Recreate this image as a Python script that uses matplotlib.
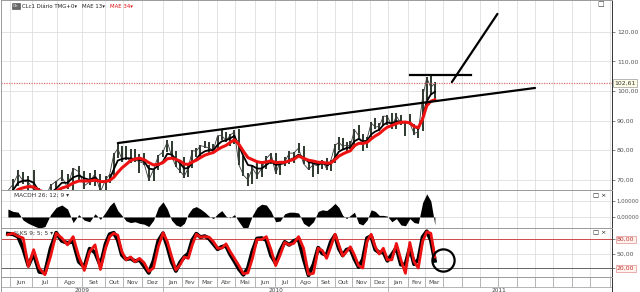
import numpy as np
import pandas as pd
import matplotlib
matplotlib.use('Agg')
import matplotlib.pyplot as plt
import matplotlib.transforms as mtransforms

# CLc1 weekly values (Friday of each week)
weeks = pd.date_range('2009-05-29', periods=95, freq='W-FRI')

close = [66.3, 68.4, 72.0, 69.6, 69.2, 66.7, 59.9, 63.6, 68.1, 69.5,
         70.9, 67.5, 73.9, 72.7, 68.0, 69.3, 72.0, 66.0, 70.0, 71.8,
         78.5, 80.5, 77.0, 77.4, 76.4, 76.7, 76.1, 75.5, 69.9, 73.4,
         78.1, 79.4, 82.8, 78.0, 74.5, 72.9, 71.2, 74.1, 79.8, 79.7,
         81.5, 81.2, 80.7, 80.0, 84.9, 84.9, 83.2, 85.1, 86.2, 75.1,
         71.6, 70.0, 74.0, 71.5, 73.8, 77.2, 78.9, 72.1, 76.1, 76.0,
         79.0, 79.0, 80.7, 75.4, 73.5, 75.2, 74.6, 76.5, 73.7, 76.5,
         81.6, 82.7, 81.3, 81.7, 81.4, 86.9, 84.9, 81.5, 83.8, 89.2,
         87.8, 88.0, 91.5, 91.4, 88.0, 91.5, 89.1, 89.3, 89.0, 85.6,
         86.2, 97.9, 104.4, 101.2, 102.61]
high = [66.5, 70.3, 73.2, 72.7, 71.3, 73.4, 67.2, 64.0, 68.5, 69.6,
        73.4, 72.0, 74.0, 74.7, 72.8, 72.3, 73.3, 72.1, 71.4, 72.0,
        78.9, 82.0, 81.5, 81.3, 80.5, 80.5, 78.6, 79.0, 75.0, 73.8,
        78.3, 80.0, 83.4, 83.0, 79.6, 75.3, 77.7, 75.5, 80.0, 80.7,
        81.7, 83.2, 82.6, 82.2, 84.9, 86.8, 86.3, 85.4, 86.7, 87.0,
        78.0, 72.2, 75.0, 75.7, 75.9, 78.0, 79.0, 79.0, 76.5, 77.8,
        79.7, 79.4, 82.4, 81.3, 76.5, 75.6, 76.2, 76.8, 77.5, 76.6,
        82.2, 84.4, 84.2, 82.9, 83.2, 87.1, 88.6, 85.5, 84.3, 89.5,
        90.8, 89.3, 91.6, 92.0, 92.6, 92.6, 91.9, 89.5, 92.2, 89.0,
        87.0, 100.5, 104.8, 105.4, 103.0]
low = [61.5, 65.5, 67.8, 68.5, 66.6, 66.1, 58.3, 59.0, 63.0, 63.8,
       69.5, 66.8, 66.2, 69.5, 66.9, 68.2, 68.0, 65.0, 65.7, 68.9,
       71.4, 77.5, 76.0, 76.8, 75.8, 76.0, 72.4, 75.0, 69.5, 69.5,
       73.4, 77.8, 79.5, 77.8, 74.2, 72.4, 70.6, 71.0, 73.9, 77.6,
       78.0, 80.6, 79.0, 78.9, 80.0, 83.5, 82.8, 81.3, 82.0, 75.0,
       71.2, 67.8, 68.5, 70.3, 70.8, 73.6, 75.4, 72.0, 71.6, 74.5,
       75.2, 75.6, 78.9, 75.2, 73.3, 71.0, 71.8, 73.5, 73.4, 72.8,
       75.8, 80.2, 80.4, 79.0, 80.4, 80.8, 84.0, 79.8, 80.7, 84.4,
       87.2, 86.6, 88.0, 88.5, 87.2, 87.0, 88.4, 84.9, 88.5, 85.2,
       84.1, 86.4, 97.0, 98.5, 96.5]
mae13 = [64.8, 66.5, 69.0, 69.7, 69.8, 69.0, 66.0, 64.5, 65.5, 67.0,
         69.0, 69.0, 70.8, 71.5, 70.5, 70.0, 70.8, 69.2, 69.3, 70.2,
         73.5, 76.5, 77.0, 77.3, 77.2, 77.0, 76.7, 76.3, 73.8, 73.5,
         74.8, 76.2, 78.8, 78.5, 77.0, 75.5, 73.8, 74.0, 75.8, 77.0,
         78.7, 79.6, 80.0, 80.0, 81.8, 83.0, 83.3, 84.0, 84.8, 81.5,
         78.0, 75.0, 74.7, 73.8, 73.8, 75.0, 76.2, 75.0, 75.3, 75.6,
         76.6, 77.3, 78.5, 77.5, 76.0, 75.6, 75.2, 75.6, 75.0, 75.4,
         77.5, 79.5, 80.2, 80.7, 81.0, 83.0, 83.8, 83.0, 83.2, 85.3,
         86.3, 86.9, 88.5, 89.4, 89.0, 89.8, 89.6, 89.5, 89.3, 88.0,
         87.2, 91.0, 96.5, 98.8, 99.7]
mae34 = [63.5, 65.3, 66.7, 67.3, 67.7, 67.6, 66.4, 65.8, 65.7, 66.2,
         67.2, 67.8, 68.9, 69.6, 69.6, 69.6, 69.9, 69.4, 69.4, 69.8,
         70.8, 72.5, 74.0, 75.2, 76.5, 77.0, 77.3, 76.8, 75.8, 75.0,
         75.2, 75.8, 77.1, 77.3, 76.9, 76.3, 75.3, 75.2, 76.0, 76.6,
         77.5, 78.3, 78.8, 79.2, 80.2, 81.0, 81.6, 82.6, 83.5, 82.0,
         79.6, 77.5, 76.8, 76.1, 75.8, 76.0, 76.4, 75.8, 75.9, 75.9,
         76.4, 76.9, 78.0, 77.3, 76.6, 76.3, 75.9, 75.9, 75.6, 75.7,
         76.8, 78.0, 78.7, 79.3, 79.8, 81.5, 82.3, 82.3, 82.6, 83.8,
         84.8, 85.6, 86.8, 87.8, 88.3, 89.0, 89.4, 89.5, 89.2, 88.0,
         87.6, 90.5, 95.0, 96.5, 97.0]
macdh = [0.5, 0.35, 0.3, -0.2, -0.4, -0.55, -0.7, -0.6, 0.15, 0.6,
         0.75, 0.5, -0.35, 0.15, -0.2, -0.3, 0.2, -0.15, 0.3, 0.7,
         0.95, 0.4, 0.1, -0.25, -0.35, -0.3, -0.4, -0.45, -0.6, -0.2,
         0.6, 0.95, 0.5, -0.2, -0.5, -0.6, -0.4, 0.2, 0.55, 0.65,
         0.5, 0.3, 0.05, -0.1, 0.2, 0.4, 0.05, -0.05, 0.15, -0.3,
         -0.7, -0.65, 0.1, 0.6, 0.8, 0.75, 0.35, -0.3, -0.25, 0.2,
         0.3, 0.3, 0.25, -0.4, -0.6, -0.3, 0.35, 0.45, 0.4, 0.6,
         0.85, 0.6, 0.1, -0.1, 0.1, 0.3, -0.4, -0.5, -0.2, 0.45,
         0.35, 0.1, 0.1, 0.05, -0.3, -0.1, -0.5, -0.55, -0.1, -0.35,
         -0.4, 0.9, 1.45, 1.0, -0.5]
stoch_k = [91, 90, 85, 60, 25, 50, 12, 10, 60, 93,
           76, 72, 75, 33, 22, 60, 52, 25, 70, 90,
           93, 78, 47, 38, 40, 34, 37, 24, 10, 35,
           76, 92, 65, 33, 14, 32, 43, 50, 78, 91,
           84, 86, 81, 70, 59, 64, 66, 48, 34, 18,
           6, 20, 55, 81, 82, 78, 46, 30, 56, 74,
           68, 76, 80, 40, 5, 27, 62, 50, 47, 74,
           88, 60, 46, 58, 60, 39, 22, 38, 82, 86,
           58, 52, 53, 35, 48, 62, 27, 28, 62, 28,
           38, 84, 96, 78, 35]
stoch_d = [89, 92, 86, 82, 23, 58, 20, 6, 44, 92,
           82, 68, 85, 44, 15, 54, 68, 17, 61, 85,
           92, 88, 54, 37, 43, 33, 40, 31, 13, 20,
           64, 93, 75, 44, 16, 27, 43, 40, 68, 90,
           84, 85, 84, 75, 61, 61, 70, 54, 40, 25,
           8, 10, 40, 79, 79, 85, 58, 25, 47, 73,
           68, 71, 85, 61, 7, 9, 61, 56, 40, 64,
           90, 68, 45, 54, 64, 47, 25, 20, 75, 90,
           64, 49, 61, 37, 37, 71, 37, 9, 73, 33,
           20, 75, 95, 92, 43]

last_price = 102.61
support_dates = ['2009-10-23', '2011-09-01']
support_prices = [82.4, 101.0]
resist_dates = ['2011-02-04', '2011-05-16']
resist_prices = [105.4, 105.4]
target_dates = ['2011-04-15', '2011-06-30']
target_prices = [103.0, 126.0]
circle_date = ['2011-04-01']
circle_value = [36.6]

month_names = ['Jun', 'Jul', 'Ago', 'Set', 'Out', 'Nov', 'Dez',
               'Jan', 'Fev', 'Mar', 'Abr', 'Mai', 'Jun', 'Jul', 'Ago', 'Set', 'Out', 'Nov', 'Dez',
               'Jan', 'Fev', 'Mar']
years = ['2009', '2010', '2011']
year_spans = [(-0.41, 7), (7, 19), (19, 31)]

# the time axis of the platform is not uniform: pixel edge of each month from May 2009
month_idx = np.arange(-1, 33)
month_edge = [-12, 10, 32, 57, 82, 105, 123, 142, 163, 182, 198, 217, 235, 255, 275, 295, 317,
              335, 352, 370, 388, 408, 425, 443, 462, 480, 498, 517, 535, 553, 572, 590, 610, 628]


def fwd(m):
    return np.interp(m, month_idx, month_edge)


def inv(p):
    return np.interp(p, month_edge, month_idx)


def mpos(dates):
    d = pd.DatetimeIndex(pd.to_datetime(dates))
    return np.asarray((d.year - 2009) * 12 + d.month - 6 + (d.day - 1) / d.days_in_month, dtype=float)


x = mpos(weeks)
W, H = 640, 292
fig = plt.figure(figsize=(6.4, 2.92), dpi=100)
L, WW = 1 / W, 611 / W
ax = fig.add_axes([L, (H - 190) / H, WW, 190 / H])
axm = fig.add_axes([L, (H - 228) / H, WW, 38 / H])
axs = fig.add_axes([L, (H - 277) / H, WW, 49 / H])
axd = fig.add_axes([L, 0, WW, 15 / H])

tick_col = '#555555'
for a in (ax, axm, axs, axd):
    a.set_xscale('function', functions=(fwd, inv))
    a.set_xlim(-0.41, 31.11)
    a.set_xticks(np.arange(0, 32))
    a.tick_params(axis='x', length=0, labelbottom=False)
    a.grid(True, color='#dedede', lw=0.6)
    a.set_axisbelow(True)
    for s in a.spines.values():
        s.set_color('#9a9a9a')
        s.set_linewidth(0.7)
    a.spines['right'].set_linestyle((0, (1, 1)))
    a.spines['right'].set_color('#333333')
    a.yaxis.tick_right()
    a.tick_params(axis='y', length=2, labelsize=4.4, colors=tick_col, pad=1.5, width=0.5)

# main price panel
ax.vlines(x, low, high, color='#1e2a1e', lw=1.3)
ax.plot(x, close, color='#3a3a3a', lw=0.6)
ax.plot(x, mae13, color='black', lw=1.3)
ax.plot(x, mae34, color='#ee1111', lw=2.2)
ax.axhline(last_price, color='#e07070', lw=0.9, ls=(0, (1, 1)))
ax.plot(mpos(support_dates), support_prices, color='black', lw=1.6, solid_capstyle='round')
ax.plot(mpos(resist_dates), resist_prices, color='black', lw=1.6)
ax.plot(mpos(target_dates), target_prices, color='black', lw=1.6, solid_capstyle='round')
ax.set_ylim(66.55, 130.7)
pticks = [70, 80, 90, 100, 110, 120]
ax.set_yticks(pticks)
ax.set_yticklabels([f'{v:.2f}'.replace('.', ',') for v in pticks])
blend = mtransforms.blended_transform_factory(ax.transAxes, ax.transData)
ax.text(1.004, last_price, f'{last_price:.2f}'.replace('.', ','), transform=blend, fontsize=4.4,
        va='center', ha='left', color='#333333',
        bbox=dict(boxstyle='square,pad=0.25', fc='#fffde6', ec='#999999', lw=0.5))

fig.text(13 / W, 1 - 6 / H, 'Ch', fontsize=3.0, color='white', va='center', ha='left',
         bbox=dict(boxstyle='square,pad=0.3', fc='#666666', ec='#444444', lw=0.4))
fig.text(22 / W, 1 - 6 / H, 'CLc1 Diário TMG+0\u25be', fontsize=3.9, color='#222222', va='center')
fig.text(82 / W, 1 - 6 / H, 'MAE 13\u25be', fontsize=3.9, color='#222222', va='center')
fig.text(110 / W, 1 - 6 / H, 'MAE 34\u25be', fontsize=3.9, color='#e01010', va='center')
fig.text(601 / W, 1 - 4 / H, '\u25a1', fontsize=5, color='#333333', va='center', ha='center')

# MACD histogram
axm.fill_between(x, 0, macdh, color='black', lw=0)
axm.set_ylim(-0.69, 1.69)
axm.set_yticks([0, 1])
axm.set_yticklabels(['0,00000', '1,00000'])
axm.tick_params(axis='y', labelsize=3.9)
axm.text(0.022, 0.86, 'MACDH 26; 12; 9 \u25be', transform=axm.transAxes, fontsize=4.2,
         color='#333333', va='center')
axm.text(0.99, 0.86, '\u25a1 \u00d7', transform=axm.transAxes, fontsize=4.6, color='#222222',
         va='center', ha='right')

# stochastic
axs.axhline(80, color='#d04a4a', lw=0.7)
axs.axhline(20, color='#666666', lw=0.7)
axs.plot(x, stoch_k, color='black', lw=2.8)
axs.plot(x, stoch_d, color='#ee1111', lw=2.0)
axs.plot(mpos(circle_date), circle_value, 'o', ms=16, mfc='none', mec='black', mew=1.6)
axs.set_ylim(1.4, 102.9)
axs.set_yticks([20, 50, 80])
axs.set_yticklabels(['20,00', '50,00', '80,00'])
for lab, v in zip(axs.get_yticklabels(), [20, 50, 80]):
    if v != 50:
        lab.set_color('#c03030')
        lab.set_bbox(dict(boxstyle='square,pad=0.2', fc='#fff3ee', ec='#e09090', lw=0.5))
axs.text(0.022, 0.9, '%KS 9; 5; 5 \u25be', transform=axs.transAxes, fontsize=4.2,
         color='#333333', va='center')
axs.text(0.99, 0.9, '\u25a1 \u00d7', transform=axs.transAxes, fontsize=4.6, color='#222222',
         va='center', ha='right')

# month and year rows
axd.grid(False)
axd.set_ylim(0, 1)
axd.set_yticks([])
axd.vlines(np.arange(0, 32), 1 / 3, 1, color='#a8a8a8', lw=0.6)
axd.vlines([7, 19], 0, 1 / 3, color='#a8a8a8', lw=0.6)
axd.axhline(1 / 3, color='#a8a8a8', lw=0.6)
for i, name in enumerate(month_names):
    axd.text(i + 0.5, 0.66, name, fontsize=4.4, color='#444444', ha='center', va='center')
for name, (a, b) in zip(years, year_spans):
    axd.text(inv((fwd(a) + fwd(b)) / 2), 0.3, name, fontsize=4.2, color='#444444',
             ha='center', va='top')

fig.savefig('out.png', dpi=100)
